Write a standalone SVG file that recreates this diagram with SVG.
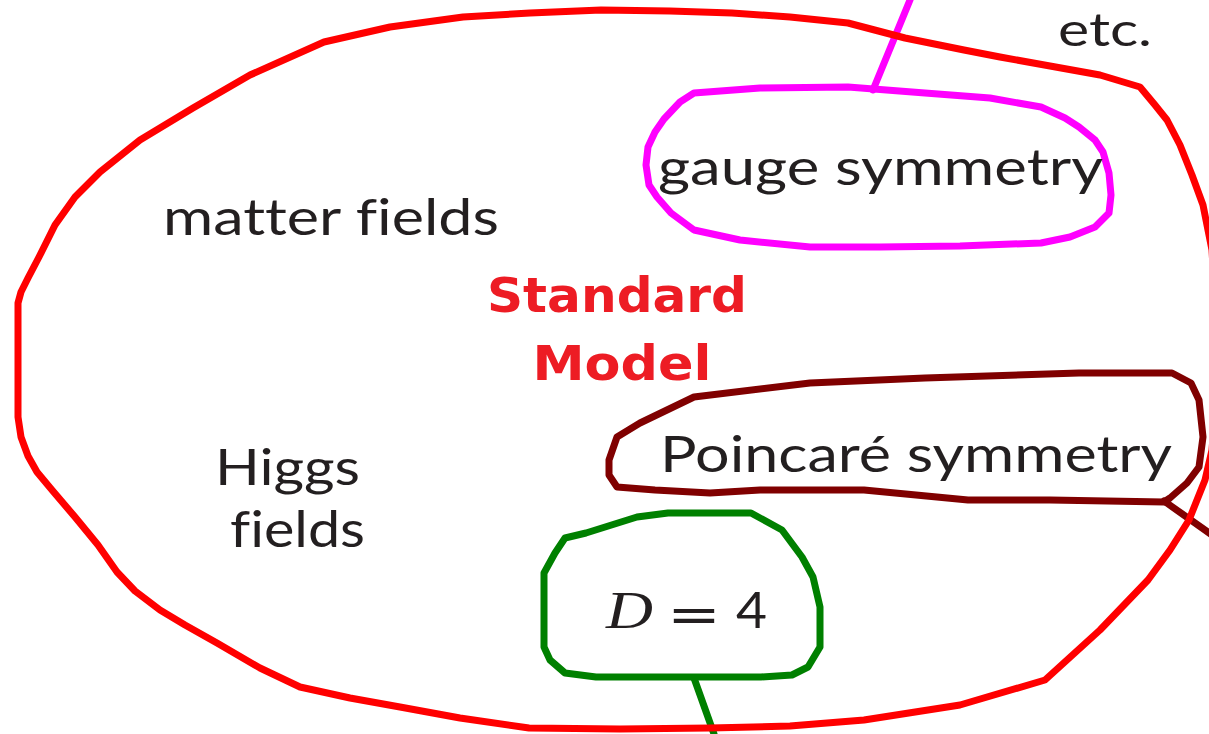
<svg xmlns="http://www.w3.org/2000/svg" width="1209" height="734" viewBox="0 0 1209 734">
<style>
.loop{fill:none;stroke-width:7;stroke-linecap:round;stroke-linejoin:round}
.t{font-family:Lato,"DejaVu Sans",sans-serif;font-size:50px;fill:#231f20;font-variant-ligatures:none}
.sm{font-family:"DejaVu Sans",sans-serif;font-size:48px;font-weight:bold;fill:#ed1c24}
</style>
<rect width="1209" height="734" fill="#fff"/>
<g id="connectors">
<path class="loop" stroke="#ff00ff" stroke-width="6" d="M873,90 L910,0"/>
<path class="loop" stroke="#800000" d="M1164,501 L1212,535"/>
<path class="loop" stroke="#008000" d="M694,678 L714,734"/>
</g>
<g id="standard-model">
<polygon class="loop" stroke="#ff0000" points="18,417 18,360 18,303 21,292 28,278 39,257 55,225 75,197 100,172 140,140 193,108 250,75 324,42 390,27 463,17 530,13 601,10 670,11 732,13 790,17 848,23 905,38 964,50 1000,57 1050,66 1100,75 1140,87 1155,105 1167,120 1180,145 1192,175 1203,205 1212,250 1216,320 1216,400 1212,450 1205,480 1189,520 1170,550 1148,580 1100,630 1045,680 960,705 864,720 790,726 710,728 620,729 529,728 460,718 400,707 350,698 300,687 260,668 217,643 185,625 160,610 135,591 117,572 98,545 75,517 52,490 37,472 28,456 21,437"/>
<text class="sm" x="617" y="312" text-anchor="middle" textLength="260" lengthAdjust="spacingAndGlyphs">Standard</text>
<text class="sm" x="622" y="380" text-anchor="middle" textLength="179" lengthAdjust="spacingAndGlyphs">Model</text>
</g>
<g id="etc"><text class="t" x="1058" y="46" style="font-size:46px" textLength="94" lengthAdjust="spacingAndGlyphs">etc.</text></g>
<g id="matter-fields"><text class="t" x="163" y="235" textLength="336" lengthAdjust="spacingAndGlyphs">matter fields</text></g>
<g id="higgs-fields">
<text class="t" x="215" y="485" textLength="145" lengthAdjust="spacingAndGlyphs">Higgs</text>
<text class="t" x="230" y="547" textLength="135" lengthAdjust="spacingAndGlyphs">fields</text>
</g>
<g id="gauge-symmetry">
<polygon class="loop" stroke="#ff00ff" points="694,93 760,88 848,87 925,93 990,98 1041,107 1065,118 1079,127 1095,140 1103,152 1109,173 1111,195 1109,213 1095,227 1070,237 1041,243 960,246 880,247 810,247 740,240 694,230 671,213 657,197 649,185 646,165 648,147 655,132 664,119 680,102"/>
<text class="t" x="658" y="185" textLength="445" lengthAdjust="spacingAndGlyphs">gauge symmetry</text>
</g>
<g id="poincare-symmetry">
<polygon class="loop" stroke="#800000" stroke-width="8" points="655,490 617,487 609,475 609,460 617,437 640,423 694,397 810,383 925,378 1079,373 1172,373 1191,383 1199,400 1203,437 1199,467 1187,483 1170,498 1164,502 1050,500 968,500 864,490 760,490 710,493"/>
<text class="t" x="660" y="472" textLength="512" lengthAdjust="spacingAndGlyphs">Poincaré symmetry</text>
</g>
<g id="d4">
<polygon class="loop" stroke="#008000" points="565,538 586,533 637,517 668,513 751,513 782,530 802,557 813,577 820,607 820,647 808,667 792,675 761,677 596,677 565,673 550,660 544,647 544,573 555,553"/>
<text x="606" y="628" style="font-family:'Liberation Serif',serif;font-style:italic;font-size:52px;fill:#231f20" textLength="47" lengthAdjust="spacingAndGlyphs">D</text>
<text x="667" y="632" style="font-family:'DejaVu Sans',sans-serif;font-size:50px;fill:#231f20" textLength="54" lengthAdjust="spacingAndGlyphs">=</text>
<text class="t" x="736" y="628" textLength="31" lengthAdjust="spacingAndGlyphs">4</text>
</g>
</svg>
